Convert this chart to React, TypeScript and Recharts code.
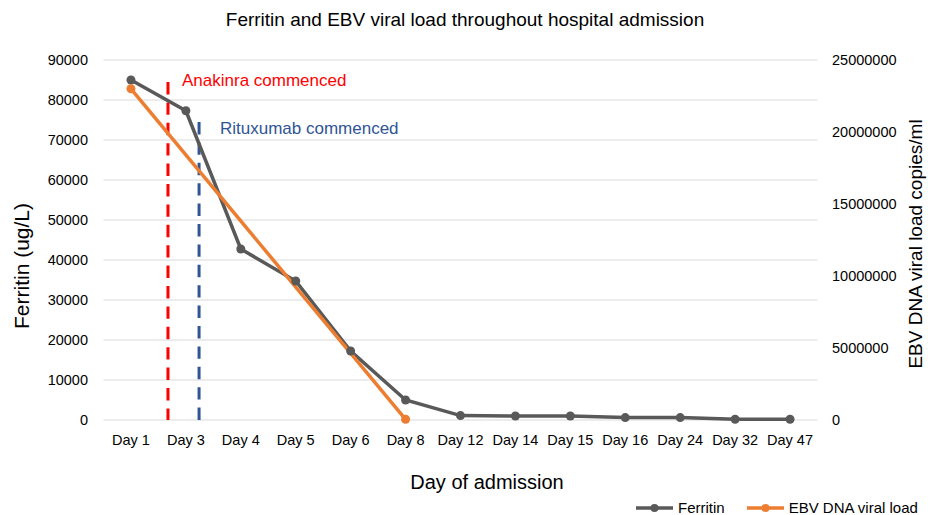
import React from 'react';
import { LineChart, Line, XAxis, YAxis, CartesianGrid, ReferenceLine } from 'recharts';

const categories = ['Day 1', 'Day 3', 'Day 4', 'Day 5', 'Day 6', 'Day 8', 'Day 12', 'Day 14', 'Day 15', 'Day 16', 'Day 24', 'Day 32', 'Day 47'];
const ferritin = [85000, 77300, 42750, 34750, 17250, 5000, 1100, 1000, 1000, 600, 600, 200, 200];
const ebvViralLoad: (number | null)[] = [23000000, null, null, null, null, 50000, null, null, null, null, null, null, null];
const leftTicks = [0, 10000, 20000, 30000, 40000, 50000, 60000, 70000, 80000, 90000];
const rightTicks = [0, 5000000, 10000000, 15000000, 20000000, 25000000];

// annotation positions (category index, ferritin-axis value)
const anakinraX = 0.674;
const anakinraTop = 84500;
const rituximabX = 1.24;
const rituximabTop = 74500;

const data = categories.map((c, i) => ({ idx: i, day: c, ferritin: ferritin[i], ebv: ebvViralLoad[i] }));

const FONT = '"Liberation Sans", Arial, Helvetica, sans-serif';
const GRAY = '#595959';
const ORANGE = '#ED7D31';

const LegendItem = ({ color, label }: { color: string; label: string }) => (
  <div style={{ display: 'flex', alignItems: 'center', marginRight: 22, flexShrink: 0, whiteSpace: 'nowrap' }}>
    <svg width={37} height={10} style={{ flexShrink: 0 }}>
      <line x1={0} y1={5} x2={37} y2={5} stroke={color} strokeWidth={3.5} />
      <circle cx={18.5} cy={5} r={4} fill={color} />
    </svg>
    <span style={{ marginLeft: 5, fontSize: 15, lineHeight: '17px', color: '#000', fontFamily: FONT }}>{label}</span>
  </div>
);

export default function App() {
  return (
    <div style={{ position: 'absolute', left: 0, top: 0, width: 928, height: 515, background: '#fff', fontFamily: FONT, overflow: 'hidden' }}>
      <LineChart width={928} height={515} data={data} margin={{ top: 60, right: 15.5, bottom: 65, left: 29.5 }}>
        <CartesianGrid yAxisId="left" vertical={false} stroke="#d9d9d9" strokeWidth={1} />
        <XAxis
          dataKey="idx"
          type="number"
          domain={[-0.5, 12.5]}
          ticks={categories.map((_, i) => i)}
          tickFormatter={(v: number) => categories[v]}
          axisLine={false}
          tickLine={false}
          tickMargin={9}
          height={30}
          interval={0}
          tick={{ fill: '#000', fontSize: 14.5, fontFamily: FONT }}
        />
        <YAxis
          yAxisId="left"
          orientation="left"
          domain={[0, 90000]}
          ticks={leftTicks}
          axisLine={false}
          tickLine={false}
          tickMargin={9.5}
          width={74}
          tick={{ fill: '#000', fontSize: 14.5, fontFamily: FONT }}
        />
        <YAxis
          yAxisId="right"
          orientation="right"
          domain={[0, 25000000]}
          ticks={rightTicks}
          axisLine={false}
          tickLine={false}
          tickMargin={8.5}
          width={95}
          tick={{ fill: '#000', fontSize: 14.5, fontFamily: FONT }}
        />
        <ReferenceLine
          yAxisId="left"
          segment={[{ x: anakinraX, y: anakinraTop }, { x: anakinraX, y: 0 }]}
          stroke="#FF0000"
          strokeWidth={3}
          strokeDasharray="12.4 8"
        />
        <ReferenceLine
          yAxisId="left"
          segment={[{ x: rituximabX, y: rituximabTop }, { x: rituximabX, y: 0 }]}
          stroke="#2F5597"
          strokeWidth={3}
          strokeDasharray="12.4 8"
        />
        <Line
          yAxisId="left"
          dataKey="ferritin"
          stroke={GRAY}
          strokeWidth={3.5}
          dot={{ r: 4.5, fill: GRAY, stroke: GRAY, strokeWidth: 0 }}
          isAnimationActive={false}
        />
        <Line
          yAxisId="right"
          dataKey="ebv"
          stroke={ORANGE}
          strokeWidth={3.5}
          connectNulls
          dot={{ r: 4.5, fill: ORANGE, stroke: ORANGE, strokeWidth: 0 }}
          isAnimationActive={false}
        />
      </LineChart>
      <svg width={928} height={515} style={{ position: 'absolute', left: 0, top: 0, pointerEvents: 'none' }}>
        <text x={465} y={26} textAnchor="middle" fontSize={19} fill="#000" fontFamily={FONT}>
          Ferritin and EBV viral load throughout hospital admission
        </text>
        <text x={487} y={489} textAnchor="middle" fontSize={20} fill="#000" fontFamily={FONT}>
          Day of admission
        </text>
        <text transform="translate(29,266) rotate(-90)" textAnchor="middle" fontSize={21} fill="#000" fontFamily={FONT}>
          Ferritin (ug/L)
        </text>
        <text transform="translate(922,244) rotate(-90)" textAnchor="middle" fontSize={19} fill="#000" fontFamily={FONT}>
          EBV DNA viral load copies/ml
        </text>
        <text x={182} y={86} fontSize={17} fill="#FF0000" fontFamily={FONT}>
          Anakinra commenced
        </text>
        <text x={220} y={134} fontSize={17} fill="#2F5597" fontFamily={FONT}>
          Rituxumab commenced
        </text>
      </svg>
      <div style={{ position: 'absolute', left: 636, top: 499, width: 292, display: 'flex', flexWrap: 'nowrap', alignItems: 'center' }}>
        <LegendItem color={GRAY} label="Ferritin" />
        <LegendItem color={ORANGE} label="EBV DNA viral load" />
      </div>
    </div>
  );
}
